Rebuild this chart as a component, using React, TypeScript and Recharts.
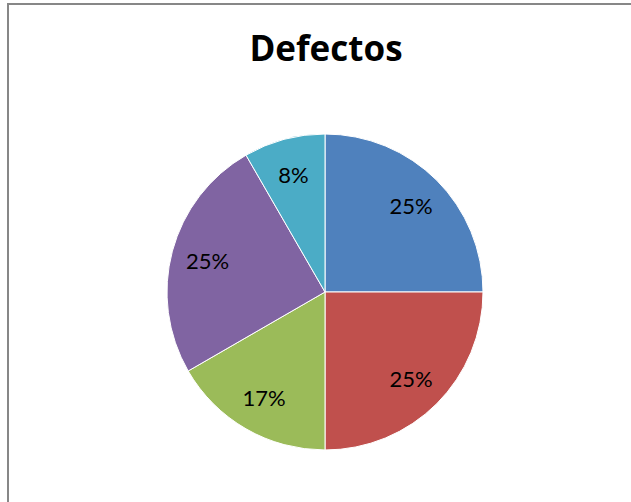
import * as React from "react"
import { PieChart, Pie, Cell } from "recharts"

// values (percent labels 25/25/17/25/8 -> 3/3/2/3/1 of 12)
const categories = ["Defecto 1", "Defecto 2", "Defecto 3", "Defecto 4", "Defecto 5"]
const counts = [3, 3, 2, 3, 1]
const colors = ["#4F81BD", "#C0504D", "#9BBB59", "#8064A2", "#4BACC6"]

const data = categories.map((name, i) => ({ name, value: counts[i] }))
const total = counts.reduce((a, b) => a + b, 0)

const RAD = Math.PI / 180

const renderLabel = (props: any) => {
    const { cx, cy, midAngle, outerRadius, value } = props
    const r = outerRadius * 0.77
    const x = cx + r * Math.cos(-midAngle * RAD)
    const y = cy + r * Math.sin(-midAngle * RAD)
    return (
        <text
            x={x}
            y={y}
            fill="#000"
            textAnchor="middle"
            dominantBaseline="central"
            fontFamily="Lato, 'Open Sans', sans-serif"
            fontSize={22}
        >
            {`${Math.round((value / total) * 100)}%`}
        </text>
    )
}

export default function App() {
    return (
        <div style={{ position: "absolute", left: 0, top: 0, width: 631, height: 502, overflow: "hidden", background: "#fff" }}>
            <div
                style={{
                    position: "absolute",
                    left: 7,
                    top: 3,
                    width: 624,
                    height: 499,
                    borderLeft: "2px solid #878787",
                    borderTop: "2px solid #878787",
                    boxSizing: "border-box",
                }}
            />
            <div
                style={{
                    position: "absolute",
                    left: 0,
                    top: 28,
                    width: 652,
                    textAlign: "center",
                    fontFamily: "'Open Sans', sans-serif",
                    fontWeight: 700,
                    fontSize: 35,
                    lineHeight: "40px",
                    color: "#000",
                }}
            >
                Defectos
            </div>
            <div style={{ position: "absolute", left: 0, top: 0 }}>
                <PieChart width={631} height={502} margin={{ top: 0, right: 0, bottom: 0, left: 0 }}>
                    <Pie
                        data={data}
                        dataKey="value"
                        nameKey="name"
                        cx={325}
                        cy={292}
                        outerRadius={158}
                        startAngle={90}
                        endAngle={-270}
                        stroke="#fff"
                        strokeWidth={1}
                        label={renderLabel}
                        labelLine={false}
                        isAnimationActive={false}
                    >
                        {data.map((d, i) => (
                            <Cell key={d.name} fill={colors[i]} />
                        ))}
                    </Pie>
                </PieChart>
            </div>
        </div>
    )
}
